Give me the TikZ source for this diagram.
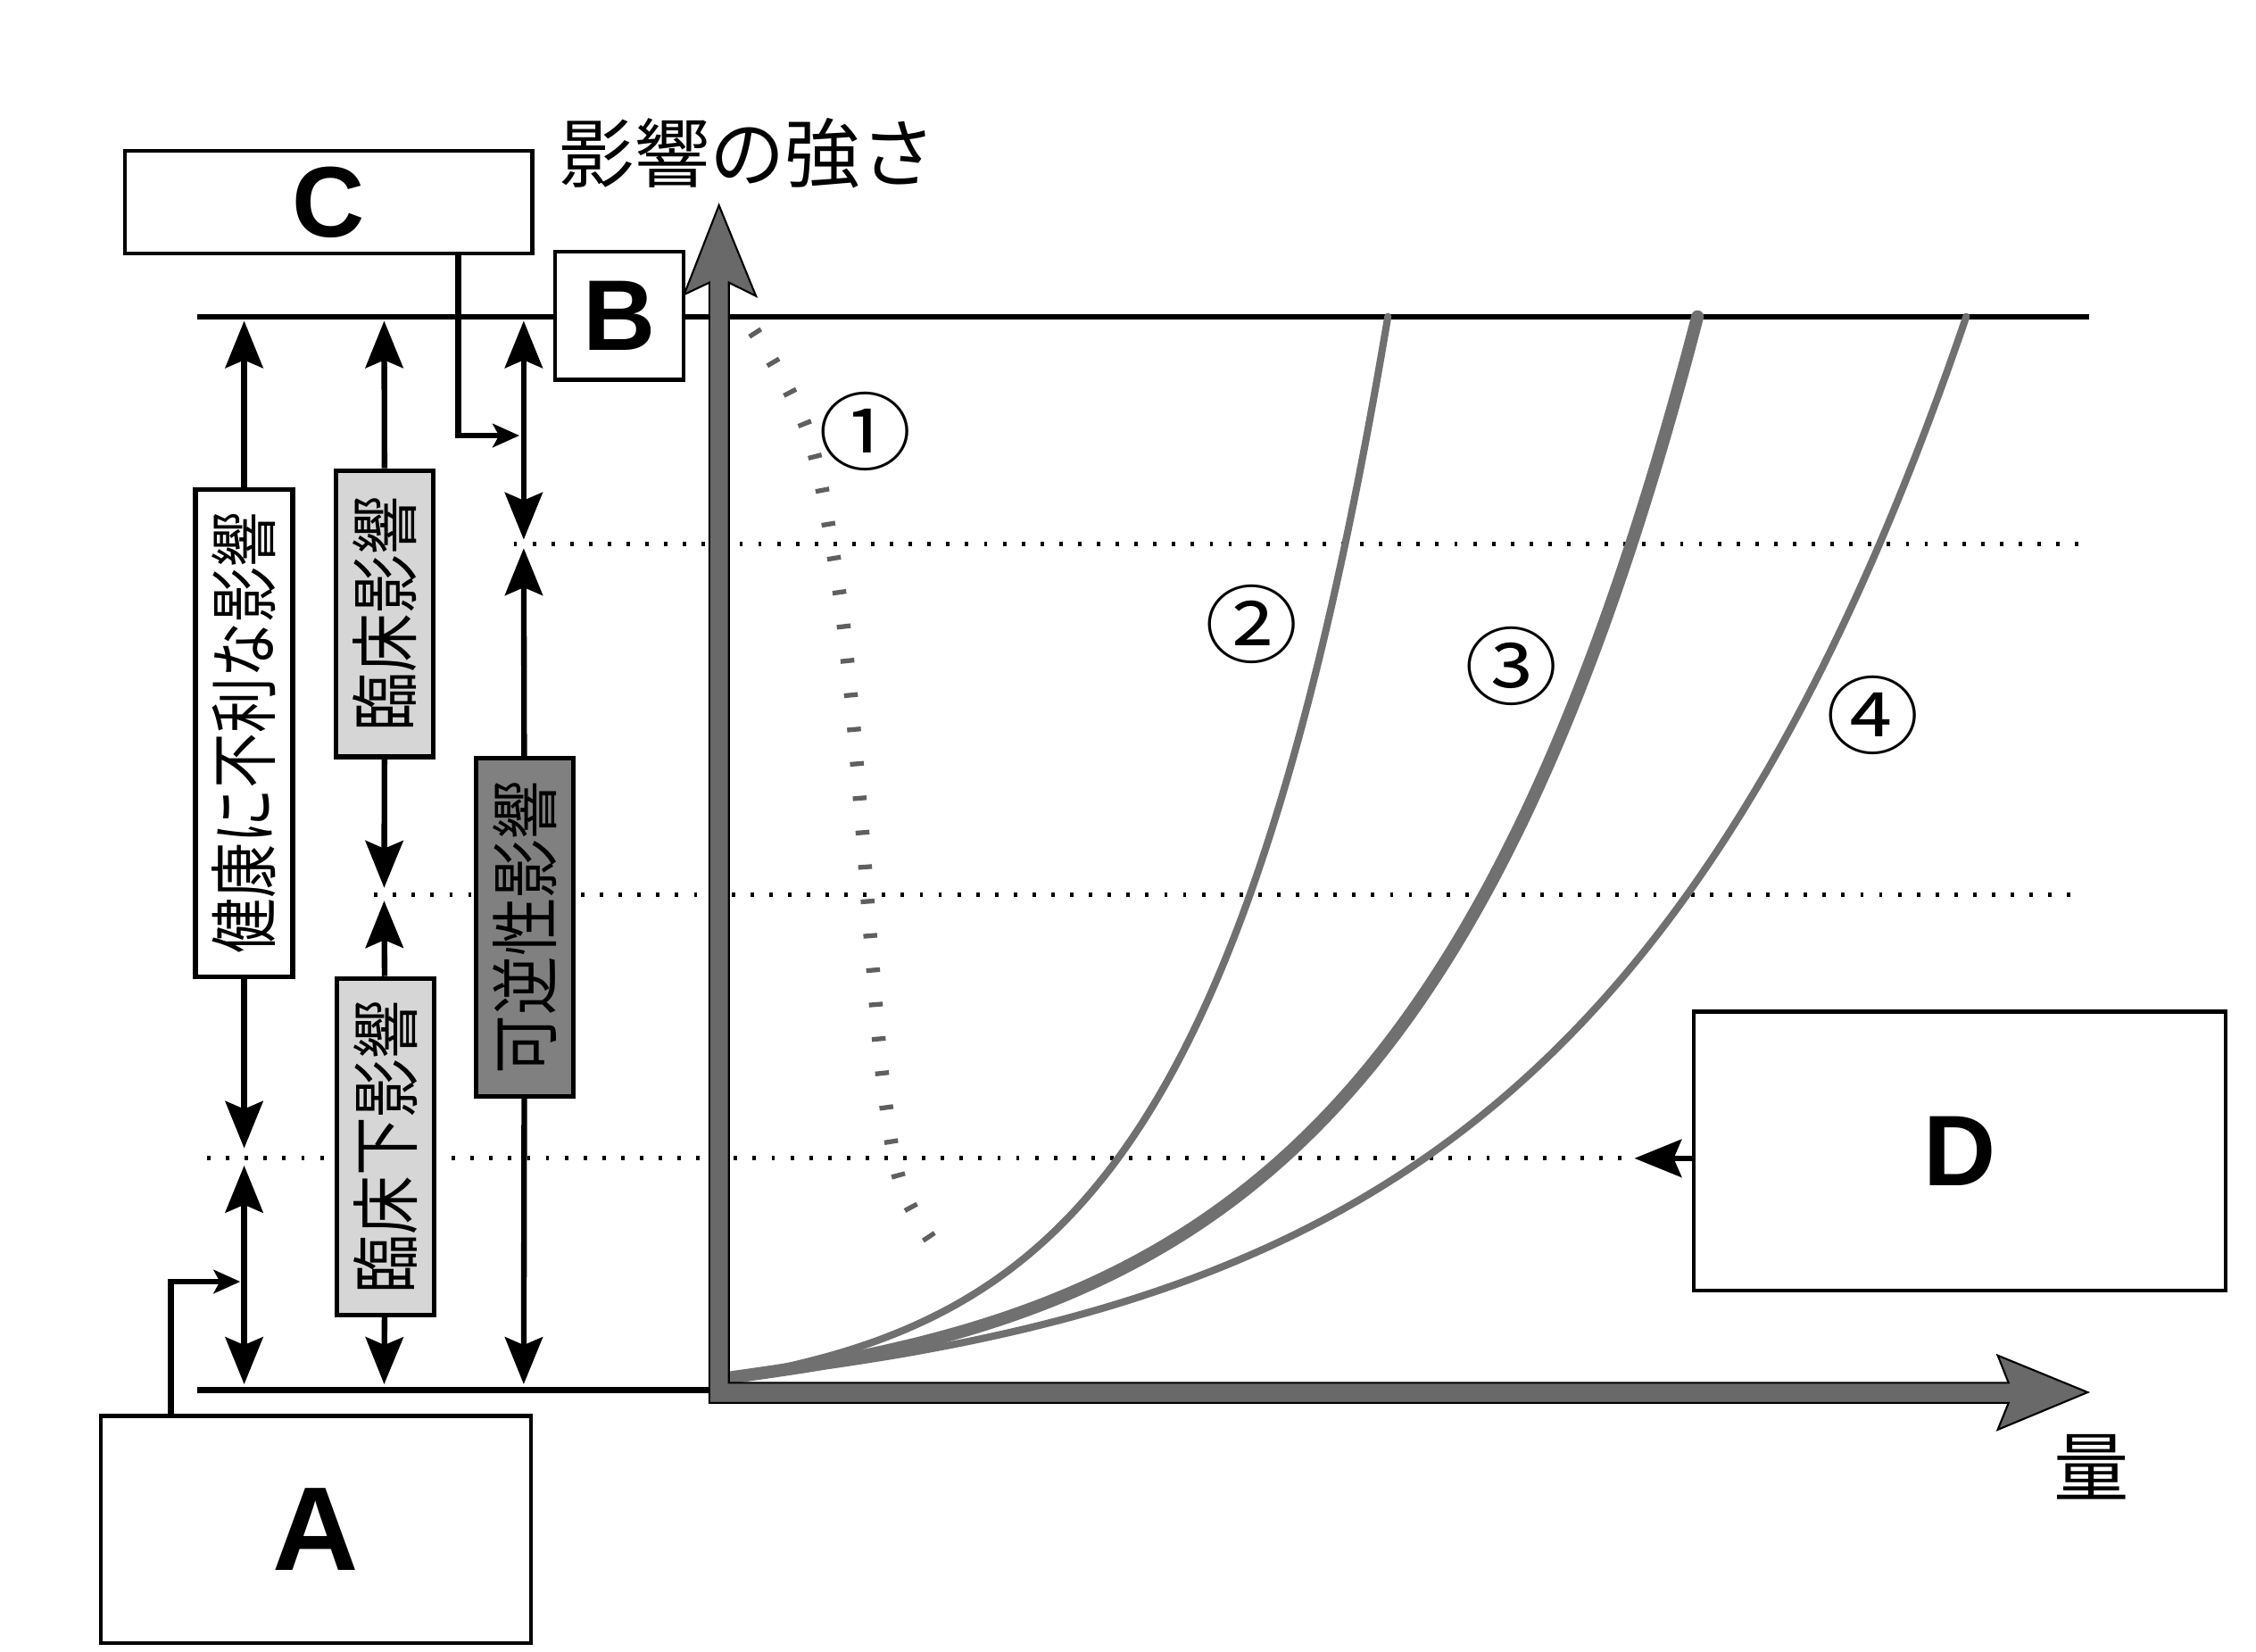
\documentclass[tikz,border=0pt]{standalone}
\usepackage{fontspec}
\newfontfamily\jp{Noto Sans CJK JP}
\newfontfamily\lat{Liberation Sans}
\usetikzlibrary{arrows.meta}
\definecolor{curvegray}{RGB}{112,112,112}
\definecolor{tickgray}{RGB}{95,95,95}
\definecolor{axisgray}{RGB}{105,105,105}
\definecolor{lightfill}{RGB}{214,214,214}
\definecolor{darkfill}{RGB}{128,128,128}
\tikzset{
  BigTip/.tip={Stealth[length=15pt,width=12pt,inset=2.5pt]},
  SmallTip/.tip={Stealth[length=8.5pt,width=7.5pt,inset=2pt]},
  conn/.style={line width=1.8pt},
  dotline/.style={line width=1.4pt, dash pattern=on 1.1pt off 4.9pt},
  letterbox/.style={draw, line width=1.2pt, fill=white, inner sep=0pt,
    font=\lat\bfseries\fontsize{32pt}{32pt}\selectfont},
  colbox/.style={draw, line width=1.5pt, rotate=90, inner sep=0pt,
    minimum height=1.09cm, font=\jp\fontsize{22pt}{22pt}\selectfont},
  jplabel/.style={inner sep=0pt, font=\jp\fontsize{24pt}{24pt}\selectfont},
  numlabel/.style={inner sep=0pt, font=\jp\fontsize{27pt}{27pt}\selectfont},
  curve/.style={curvegray, line width=2.3pt, line cap=round},
}
\begin{document}
\begin{tikzpicture}[x=0.016122cm, y=-0.016122cm]
\fill[white] (0,0) rectangle (1568,1147.5);
\useasboundingbox (0,0) rectangle (1568,1147.5);

% reference coordinates
\coordinate (topL) at (137,220);
\coordinate (topR) at (1452,220);
\coordinate (botL) at (137,966);
\coordinate (botR) at (495,966);
\coordinate (d1L) at (357,378);
\coordinate (d1R) at (1448,378);
\coordinate (d2L) at (260,622);
\coordinate (d2R) at (1448,622);
\coordinate (d3L) at (144,805);
\coordinate (d3R) at (1136,805);

% dotted levels
\draw[dotline] (d1L) -- (d1R);
\draw[dotline] (d2L) -- (d2R);
\draw[dotline] (d3L) -- (d3R);

% solid levels
\draw[conn] (topL) -- (topR);
\draw[conn] (botL) -- (botR);

% curve 1 (ticked)
\draw[tickgray, line width=4.4pt, dash pattern=on 1.5pt off 9.5pt]
  plot[smooth, tension=0.6] coordinates {(524,230) (561,299) (580,390)
  (590,469) (598.5,566.7) (606,664) (615,762) (628,828) (658,877)};

% curves 2,3,4
\draw[curve] plot[domain=0:738, samples=90, smooth, variable=\h]
  ({503+127*ln(1+\h/20)}, {958-\h});
\draw[curve, line width=4pt] plot[domain=0:738, samples=90, smooth, variable=\h]
  ({503+198*ln(1+\h/25)}, {958-\h});
\draw[curve] plot[domain=0:738, samples=90, smooth, variable=\h]
  ({503+261*ln(1+\h/28)}, {958-\h});

% axes
\filldraw[fill=axisgray, draw=black, line width=0.6pt]
  (493,975) -- (493,196.4) -- (475.5,204.7) -- (499.7,142.7) -- (525.4,205.7)
  -- (506.6,196.4) -- (506.6,961) -- (1396,961) -- (1388.5,942) -- (1451,967.6)
  -- (1388.5,993.6) -- (1396,975) -- cycle;

% axis labels
\node[jplabel] (ylab) at (519.5,106.5) {影響の強さ};
\node[jplabel] (xlab) at (1453.5,1019.5) {量};

% curve labels
\node[numlabel] (n1) at (601.7,300) {\scalebox{1.1}[1]{①}};
\node[numlabel] (n2) at (869.8,434) {\scalebox{1.1}[1]{②}};
\node[numlabel] (n3) at (1050.8,463) {\scalebox{1.1}[1]{③}};
\node[numlabel] (n4) at (1301.7,497) {\scalebox{1.1}[1]{④}};

% letter boxes
\node[letterbox, minimum width=4.562cm, minimum height=1.145cm] (C) at (228.5,140.5) {\raisebox{-3pt}{C}};
\node[letterbox, minimum width=1.435cm, minimum height=1.435cm] (B) at (430.5,219.5) {\raisebox{-3pt}{B}};
\node[letterbox, minimum width=4.82cm, minimum height=2.547cm,
  font=\lat\bfseries\fontsize{38pt}{38pt}\selectfont] (A) at (219.5,1063) {\raisebox{-3pt}{A}};
\node[letterbox, minimum width=5.965cm, minimum height=3.128cm] (D) at (1362,800) {\raisebox{-3pt}{D}};

% column boxes
\node[colbox, fill=white, minimum width=5.465cm] (h1) at (169.7,509.5) {\scalebox{0.8}[1]{健康に不利な影響}};
\node[colbox, fill=lightfill, minimum width=3.208cm] (h2) at (267.5,426.5) {\scalebox{0.85}[1]{臨床影響}};
\node[colbox, fill=lightfill, minimum width=3.773cm] (h3) at (268,797) {\scalebox{0.85}[1]{臨床下影響}};
\node[colbox, fill=darkfill, minimum width=3.789cm] (h4) at (364.6,644.5) {\scalebox{0.85}[1]{可逆性影響}};

% column arrow ends
\coordinate (c1t) at (169.7,223);
\coordinate (c1m) at (169.7,798);
\coordinate (c1n) at (169.7,810);
\coordinate (c1b) at (169.7,962);
\coordinate (c2t) at (267,223);
\coordinate (c2m) at (267,617);
\coordinate (c2n) at (267,626);
\coordinate (c2b) at (267,962);
\coordinate (c3t) at (364,223);
\coordinate (c3m) at (364,375);
\coordinate (c3n) at (364,381);
\coordinate (c3b) at (364,962);

\draw[conn, -BigTip] (h1) -- (c1t);
\draw[conn, -BigTip] (h1) -- (c1m);
\draw[conn, BigTip-BigTip] (c1n) -- (c1b);
\draw[conn, -BigTip] (h2) -- (c2t);
\draw[conn, -BigTip] (h2) -- (c2m);
\draw[conn, -BigTip] (h3) -- (c2n);
\draw[conn, -BigTip] (h3) -- (c2b);
\draw[conn, BigTip-BigTip] (c3t) -- (c3m);
\draw[conn, -BigTip] (h4) -- (c3n);
\draw[conn, -BigTip] (h4) -- (c3b);

% C and A pointers
\coordinate (cx) at (318.5,0);
\coordinate (cjoin) at (361,302.7);
\draw[conn, -SmallTip] (C.south -| cx) |- (cjoin);
\coordinate (ax) at (118.8,0);
\coordinate (ajoin) at (167,890.7);
\draw[conn, -SmallTip] (A.north -| ax) |- (ajoin);

% D pointer
\draw[conn, -BigTip] (D.west |- d3R) -- (d3R);
\end{tikzpicture}
\end{document}
